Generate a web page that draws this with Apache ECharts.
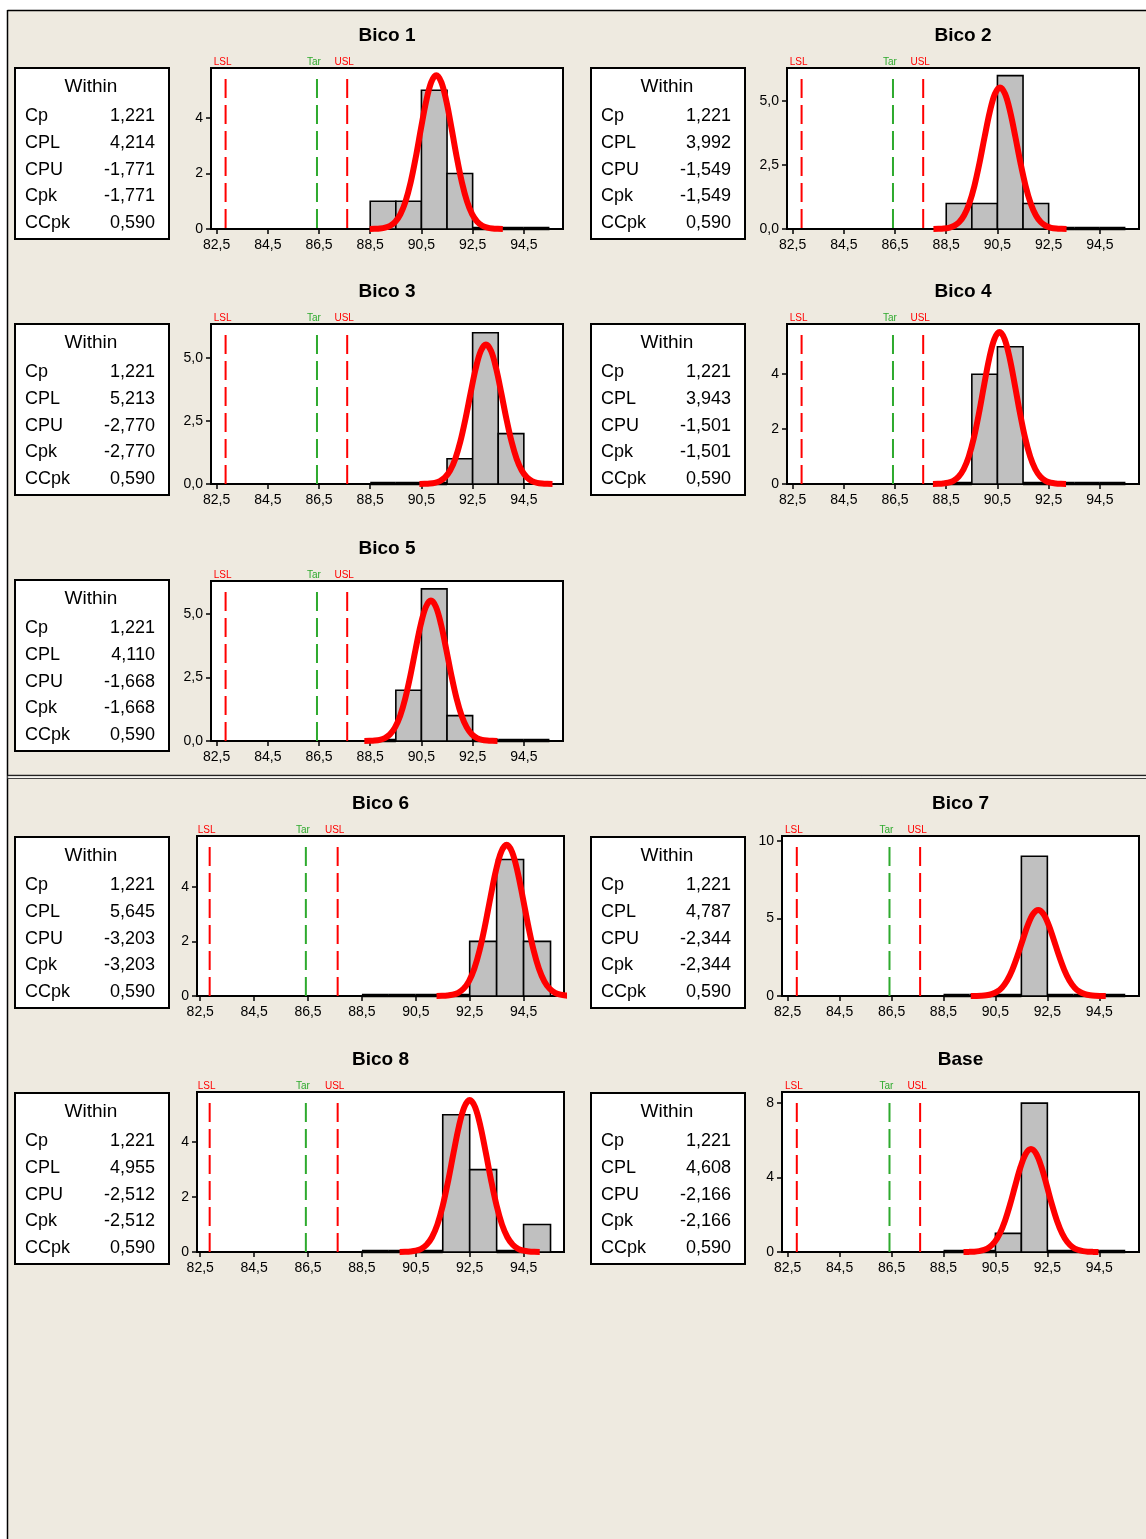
<!DOCTYPE html>
<html><head><meta charset="utf-8">
<script src="https://cdn.jsdelivr.net/npm/echarts@6/dist/echarts.min.js"></script>
<style>html,body{margin:0;padding:0;background:#fff;}#c{width:1146px;height:1539px;}</style>
</head><body><div id="c"></div>
<script>
// ---------------- data ----------------
const panelNames = ['Bico 1','Bico 2','Bico 3','Bico 4','Bico 5','Bico 6','Bico 7','Bico 8','Base'];
const statLabels = ['Cp','CPL','CPU','Cpk','CCpk'];
const statCp   = ['1,221','1,221','1,221','1,221','1,221','1,221','1,221','1,221','1,221'];
const statCPL  = ['4,214','3,992','5,213','3,943','4,110','5,645','4,787','4,955','4,608'];
const statCPU  = ['-1,771','-1,549','-2,770','-1,501','-1,668','-3,203','-2,344','-2,512','-2,166'];
const statCpk  = ['-1,771','-1,549','-2,770','-1,501','-1,668','-3,203','-2,344','-2,512','-2,166'];
const statCCpk = ['0,590','0,590','0,590','0,590','0,590','0,590','0,590','0,590','0,590'];

const binCenters = [89, 90, 91, 92, 93, 94, 95];
const binWidth = 1;
const countsBico1 = [1, 1, 5, 2, 0, 0, 0];
const countsBico2 = [1, 1, 6, 1, 0, 0, 0];
const countsBico3 = [0, 0, 0, 1, 6, 2, null];
const countsBico4 = [0, 4, 5, 0, 0, 0, 0];
const countsBico5 = [0, 2, 6, 1, 0, 0, 0];
const countsBico6 = [0, 0, 0, 0, 2, 5, 2];
const countsBico7 = [0, 0, 0, 9, 0, 0, 0];
const countsBico8 = [0, 0, 0, 5, 3, 0, 1];
const countsBase  = [0, 0, 1, 8, 0, 0, 0];
const allCounts = [countsBico1, countsBico2, countsBico3, countsBico4, countsBico5,
                   countsBico6, countsBico7, countsBico8, countsBase];

// fitted normal curve (same spread in every panel)
const curveCenters = [91.08, 90.6, 93.02, 90.58, 90.87, 93.87, 92.15, 92.5, 91.87];
const curveOffsets = [-2.6,-2.4,-2.2,-2.0,-1.8,-1.6,-1.4,-1.2,-1.0,-0.8,-0.6,-0.4,-0.2,0,
                      0.2,0.4,0.6,0.8,1.0,1.2,1.4,1.6,1.8,2.0,2.2,2.4,2.6];
const curveHeights = [0.002,0.006,0.017,0.047,0.117,0.263,0.537,0.997,1.684,2.586,3.609,4.579,5.282,5.54,
                      5.282,4.579,3.609,2.586,1.684,0.997,0.537,0.263,0.117,0.047,0.017,0.006,0.002];

const refNames  = ['LSL', 'Tar', 'USL'];
const refValues = [82.85, 86.42, 87.6];

const xTickValues = [82.5, 84.5, 86.5, 88.5, 90.5, 92.5, 94.5];
const yTickValues = [[0,2,4],[0,2.5,5],[0,2.5,5],[0,2,4],[0,2.5,5],[0,2,4],[0,5,10],[0,2,4],[0,4,8]];
const yTickDecimals = [0,1,1,0,1,0,0,0,0];
const yMaxValues = [5.8, 6.3, 6.35, 5.83, 6.31, 5.86, 10.3, 5.83, 8.6];

// ---------------- layout ----------------
const grids = [
  {left:211, top:68,   width:352, height:161, xr:[82.28,96.03], box:[15,68]},
  {left:787, top:68,   width:352, height:161, xr:[82.28,96.03], box:[591,68]},
  {left:211, top:324,  width:352, height:160, xr:[82.28,96.03], box:[15,324]},
  {left:787, top:324,  width:352, height:160, xr:[82.28,96.03], box:[591,324]},
  {left:211, top:581,  width:352, height:160, xr:[82.28,96.03], box:[15,580]},
  {left:197, top:836,  width:367, height:160, xr:[82.38,96.0],  box:[15,837]},
  {left:782, top:836,  width:357, height:160, xr:[82.28,96.03], box:[591,837]},
  {left:197, top:1092, width:367, height:160, xr:[82.38,96.0],  box:[15,1093]},
  {left:782, top:1092, width:357, height:160, xr:[82.28,96.03], box:[591,1093]}
];
const FONT = '"Liberation Sans", Arial, sans-serif';
const refColors = ['#FF0000', '#2EAA2E', '#FF0000'];
const fmt = (v, d) => v.toFixed(d).replace('.', ',');

const option = {
  animation: false,
  backgroundColor: '#ffffff',
  grid: [], xAxis: [], yAxis: [], series: [], graphic: []
};

// page frame
option.graphic.push(
  {type:'rect', shape:{x:8, y:10, width:1138, height:1529}, style:{fill:'#EEEAE0'}, z:-10, silent:true},
  {type:'line', shape:{x1:7.5, y1:10, x2:7.5, y2:1539}, style:{stroke:'#000', lineWidth:1.5}, silent:true},
  {type:'line', shape:{x1:7.5, y1:10.5, x2:1146, y2:10.5}, style:{stroke:'#000', lineWidth:1.5}, silent:true},
  {type:'line', shape:{x1:7.5, y1:775.5, x2:1146, y2:775.5}, style:{stroke:'#222', lineWidth:1.5}, silent:true},
  {type:'line', shape:{x1:7.5, y1:777, x2:1146, y2:777}, style:{stroke:'#ffffff', lineWidth:1}, silent:true},
  {type:'line', shape:{x1:7.5, y1:778.5, x2:1146, y2:778.5}, style:{stroke:'#444', lineWidth:1.2}, silent:true}
);

grids.forEach((g, i) => {
  option.grid.push({left:g.left, top:g.top, width:g.width, height:g.height, show:true,
    backgroundColor:'#ffffff', borderColor:'#000', borderWidth:2, containLabel:false});
  option.xAxis.push({
    type:'value', gridIndex:i, min:g.xr[0], max:g.xr[1],
    axisLine:{show:true, onZero:false, lineStyle:{color:'#000', width:2}},
    axisTick:{show:true, length:5, lineStyle:{color:'#000', width:1.5}, customValues:xTickValues},
    axisLabel:{show:true, margin:9, color:'#000', fontSize:14, fontFamily:FONT,
      customValues:xTickValues, formatter:v => fmt(v, 1)},
    splitLine:{show:false}
  });
  option.yAxis.push({
    type:'value', gridIndex:i, min:0, max:yMaxValues[i],
    axisLine:{show:true, lineStyle:{color:'#000', width:2}},
    axisTick:{show:true, length:5, lineStyle:{color:'#000', width:1.5}, customValues:yTickValues[i]},
    axisLabel:{show:true, margin:8, color:'#000', fontSize:14, fontFamily:FONT,
      customValues:yTickValues[i], formatter:v => fmt(v, yTickDecimals[i])},
    splitLine:{show:false}
  });

  // histogram bars (empty bins drawn as a heavy baseline segment)
  const barData = [];
  binCenters.forEach((c, k) => { if (allCounts[i][k] !== null) barData.push([c, allCounts[i][k]]); });
  option.series.push({
    type:'custom', xAxisIndex:i, yAxisIndex:i, z:2, silent:true, clip:false,
    encode:{x:0, y:1}, data:barData,
    renderItem:(params, api) => {
      const c = api.value(0), n = api.value(1);
      const p0 = api.coord([c - binWidth / 2, n]);
      const p1 = api.coord([c + binWidth / 2, 0]);
      if (n === 0) {
        return {type:'line', shape:{x1:p0[0], y1:p1[1] - 0.5, x2:p1[0], y2:p1[1] - 0.5},
          style:{stroke:'#000', lineWidth:3.5}};
      }
      return {type:'rect', shape:{x:p0[0], y:p0[1], width:p1[0]-p0[0], height:p1[1]-p0[1]},
        style:{fill:'#C0C0C0', stroke:'#000', lineWidth:1.6}};
    }
  });

  // spec / target reference lines
  option.series.push({
    type:'custom', xAxisIndex:i, yAxisIndex:i, z:3, silent:true, clip:false,
    encode:{x:0, y:1}, data:refValues.map((v, k) => [v, 0, k]),
    renderItem:(params, api) => {
      const k = api.value(2);
      const x = api.coord([api.value(0), 0])[0];
      const cs = params.coordSys;
      return {type:'group', children:[
        {type:'line', shape:{x1:x, y1:cs.y + 11, x2:x, y2:cs.y + cs.height},
          style:{stroke:refColors[k], lineWidth:2, lineDash:[19, 7]}},
        {type:'text', style:{text:refNames[k], x:x - 3, y:cs.y - 6, align:'center', verticalAlign:'middle',
          textAlign:'center', textVerticalAlign:'middle', fill:refColors[k], font:'10px ' + FONT}}
      ]};
    }
  });

  // normal curve
  option.series.push({
    type:'line', xAxisIndex:i, yAxisIndex:i, z:5, silent:true, smooth:0.35,
    showSymbol:false, symbol:'none', clip:true,
    lineStyle:{color:'#FF0000', width:6},
    data:curveOffsets.map((o, k) => [curveCenters[i] + o, curveHeights[k]])
  });

  // title
  option.graphic.push({type:'text', silent:true, style:{text:panelNames[i], x:g.left + g.width / 2, y:g.top - 32,
    align:'center', verticalAlign:'middle', textAlign:'center', textVerticalAlign:'middle',
    fill:'#000', font:'bold 19px ' + FONT}});

  // "Within" statistics box
  const bx = g.box[0], by = g.box[1];
  option.graphic.push({type:'rect', silent:true, shape:{x:bx, y:by, width:154, height:171},
    style:{fill:'#ffffff', stroke:'#000', lineWidth:2}});
  option.graphic.push({type:'text', silent:true, style:{text:'Within', x:bx + 76, y:by + 19,
    align:'center', verticalAlign:'middle', textAlign:'center', textVerticalAlign:'middle',
    fill:'#000', font:'19px ' + FONT}});
  const vals = [statCp[i], statCPL[i], statCPU[i], statCpk[i], statCCpk[i]];
  statLabels.forEach((lab, r) => {
    const yy = by + 48 + r * 26.8;
    option.graphic.push({type:'text', silent:true, style:{text:lab, x:bx + 10, y:yy,
      align:'left', verticalAlign:'middle', textAlign:'left', textVerticalAlign:'middle',
      fill:'#000', font:'18px ' + FONT}});
    option.graphic.push({type:'text', silent:true, style:{text:vals[r], x:bx + 140, y:yy,
      align:'right', verticalAlign:'middle', textAlign:'right', textVerticalAlign:'middle',
      fill:'#000', font:'18px ' + FONT}});
  });
});

const chart = echarts.init(document.getElementById('c'), null, {renderer:'canvas'});
chart.setOption(option);
</script>
</body></html>
